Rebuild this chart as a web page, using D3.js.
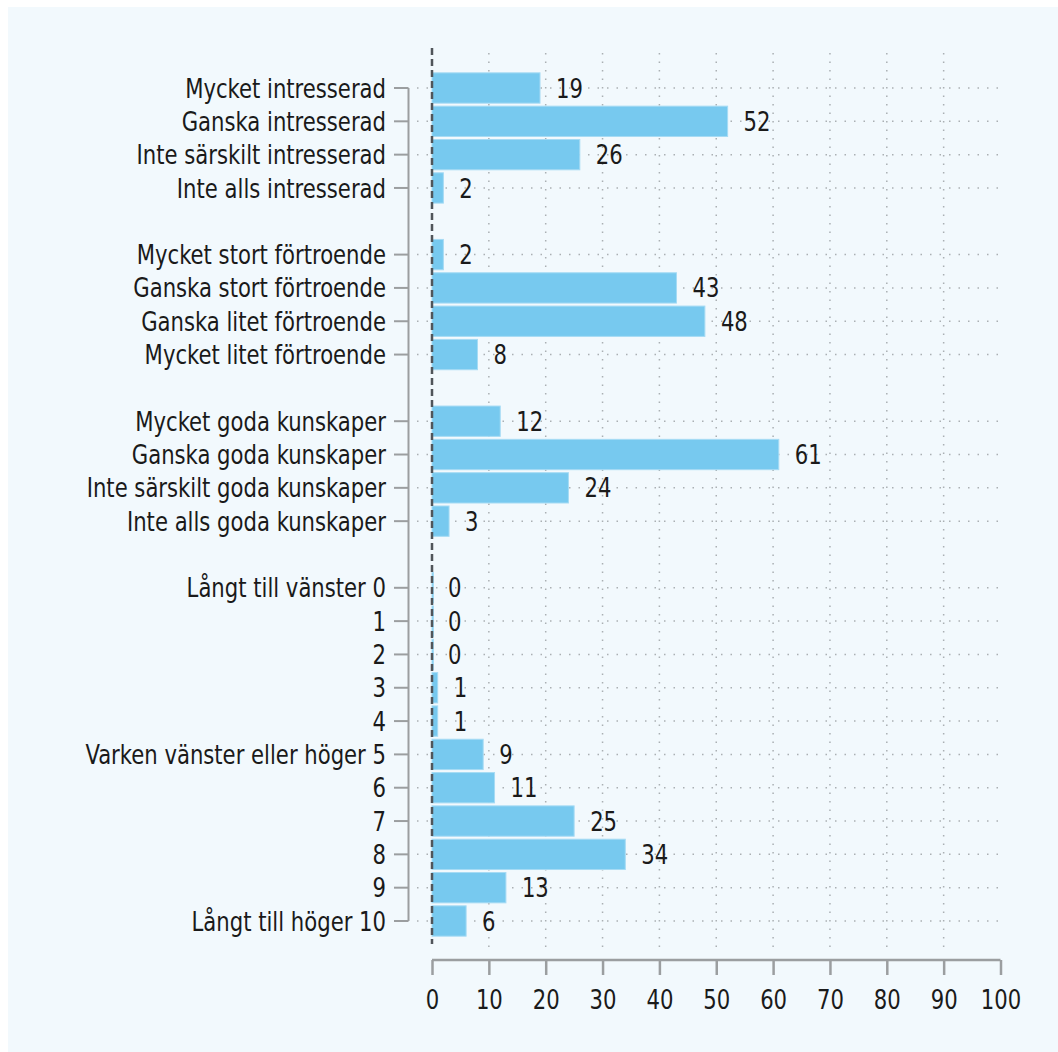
<!DOCTYPE html>
<html>
<head>
<meta charset="utf-8">
<script src="https://cdn.jsdelivr.net/npm/d3@7"></script>
<style>
  html, body { margin: 0; padding: 0; background: #ffffff; }
  svg { display: block; }
  text { fill: #1a1a1a; }
</style>
</head>
<body>
<svg id="chart" width="1058" height="1052"></svg>
<script>
// ---- Data ----
const interestLabels = ["Mycket intresserad", "Ganska intresserad", "Inte särskilt intresserad", "Inte alls intresserad"];
const interestValues = [19, 52, 26, 2];

const trustLabels = ["Mycket stort förtroende", "Ganska stort förtroende", "Ganska litet förtroende", "Mycket litet förtroende"];
const trustValues = [2, 43, 48, 8];

const knowledgeLabels = ["Mycket goda kunskaper", "Ganska goda kunskaper", "Inte särskilt goda kunskaper", "Inte alls goda kunskaper"];
const knowledgeValues = [12, 61, 24, 3];

const scaleLabels = ["Långt till vänster 0", "1", "2", "3", "4", "Varken vänster eller höger 5", "6", "7", "8", "9", "Långt till höger 10"];
const scaleValues = [0, 0, 0, 1, 1, 9, 11, 25, 34, 13, 6];

const xTicks = [0, 10, 20, 30, 40, 50, 60, 70, 80, 90, 100];

// ---- Build rows (with spacer rows between groups) ----
const groups = [
  [interestLabels, interestValues],
  [trustLabels, trustValues],
  [knowledgeLabels, knowledgeValues],
  [scaleLabels, scaleValues]
];
const rows = [];
groups.forEach(([labs, vals], gi) => {
  if (gi > 0) rows.push({ id: "spacer" + gi, label: null, value: null });
  labs.forEach((l, i) => rows.push({ id: "r" + rows.length, label: l, value: vals[i] }));
});
const dataRows = rows.filter(r => r.label !== null);

// ---- Font choice: tall condensed look (cap height ~19.5px, label width ~201px) ----
const svg = d3.select("#chart");
const W = 1058, H = 1052;
let FONT = '"Liberation Sans", Arial, sans-serif', FS = 24, SX = 1;
{
  const m = (fam, fs) => {
    const t = svg.append("text").attr("font-size", fs).style("font-family", fam).text("Mycket intresserad");
    const w = t.node().getComputedTextLength(); t.remove(); return w;
  };
  const wc = m('"DejaVu Sans Condensed", monospace', 26.5);
  const wm = m('monospace', 26.5);
  if (Math.abs(wc - wm) > 1 && wc > 120) {
    FONT = '"DejaVu Sans Condensed", "Liberation Sans", sans-serif';
    FS = 26.5;
    SX = Math.min(1, 201 / wc);
  } else {
    FS = 26.5;
    SX = Math.min(1, 201 / m(FONT, 26.5));
  }
}

svg.append("rect")
  .attr("x", 8).attr("y", 7).attr("width", W - 8).attr("height", H - 7)
  .attr("fill", "#f2f9fd");

const x = d3.scaleLinear().domain([0, 100]).range([432, 1000.5]);
const y = d3.scaleBand()
  .domain(rows.map(r => r.id))
  .range([88 - 16.66, 921 + 16.66])
  .paddingInner(0.09)
  .paddingOuter(0.045);
const yc = id => y(id) + y.bandwidth() / 2;

const gridTop = 53, gridBottom = 951;

// vertical dotted gridlines
svg.append("g").selectAll("line")
  .data(xTicks.filter(t => t > 0 && t < 100))
  .join("line")
  .attr("x1", d => x(d)).attr("x2", d => x(d))
  .attr("y1", gridTop).attr("y2", gridBottom)
  .attr("stroke", "#aab0b3").attr("stroke-width", 1.5)
  .attr("stroke-dasharray", "1.5,7");

// horizontal dotted gridlines
svg.append("g").selectAll("line")
  .data(dataRows)
  .join("line")
  .attr("x1", 417).attr("x2", 1004)
  .attr("y1", d => yc(d.id)).attr("y2", d => yc(d.id))
  .attr("stroke", "#aab0b3").attr("stroke-width", 1.5)
  .attr("stroke-dasharray", "1.5,8");

// bars
svg.append("g").selectAll("rect")
  .data(dataRows)
  .join("rect")
  .attr("x", x(0))
  .attr("y", d => y(d.id))
  .attr("width", d => Math.max(x(d.value) - x(0), 1.5))
  .attr("height", y.bandwidth())
  .attr("fill", "#77c9ef")
  .attr("stroke", "#a6dbf4")
  .attr("stroke-width", 1);

// value labels
svg.append("g").selectAll("text")
  .data(dataRows)
  .join("text")
  .attr("transform", d => `translate(${x(d.value) + 16},${yc(d.id)}) scale(${SX},1)`)
  .attr("dy", "0.36em")
  .attr("font-size", FS)
  .style("font-family", FONT)
  .text(d => d.value);

// dashed zero line
svg.append("line")
  .attr("x1", x(0)).attr("x2", x(0))
  .attr("y1", 48).attr("y2", 944)
  .attr("stroke", "#50555a").attr("stroke-width", 2.5)
  .attr("stroke-dasharray", "7,4");

// left category axis (bracket style)
const yAxisX = 408.5;
const leftAxis = svg.append("g");
leftAxis.append("line")
  .attr("x1", yAxisX).attr("x2", yAxisX)
  .attr("y1", yc(dataRows[0].id)).attr("y2", yc(dataRows[dataRows.length - 1].id))
  .attr("stroke", "#9b9ea0").attr("stroke-width", 2);
leftAxis.selectAll("line.tick")
  .data(dataRows)
  .join("line")
  .attr("class", "tick")
  .attr("x1", 394).attr("x2", yAxisX)
  .attr("y1", d => yc(d.id)).attr("y2", d => yc(d.id))
  .attr("stroke", "#9b9ea0").attr("stroke-width", 2);
leftAxis.selectAll("text")
  .data(dataRows)
  .join("text")
  .attr("transform", d => `translate(386,${yc(d.id)}) scale(${SX},1)`)
  .attr("dy", "0.36em")
  .attr("text-anchor", "end")
  .attr("font-size", FS)
  .style("font-family", FONT)
  .text(d => d.label);

// bottom axis
const xAxisG = svg.append("g").attr("transform", "translate(0,960)");
xAxisG.call(d3.axisBottom(x).tickValues(xTicks).tickSize(15).tickPadding(11).tickFormat(d3.format("d")));
xAxisG.select(".domain").attr("stroke", "#9b9ea0").attr("stroke-width", 2.5)
  .attr("d", `M${x(0)},0H${x(100)}`);
xAxisG.selectAll(".tick line").attr("stroke", "#9b9ea0").attr("stroke-width", 2.5);
xAxisG.selectAll(".tick text")
  .attr("font-size", FS)
  .attr("fill", "#1a1a1a")
  .attr("y", 0)
  .attr("dy", 0)
  .attr("transform", `translate(0,49) scale(${SX},1)`)
  .style("font-family", FONT);
</script>
</body>
</html>
